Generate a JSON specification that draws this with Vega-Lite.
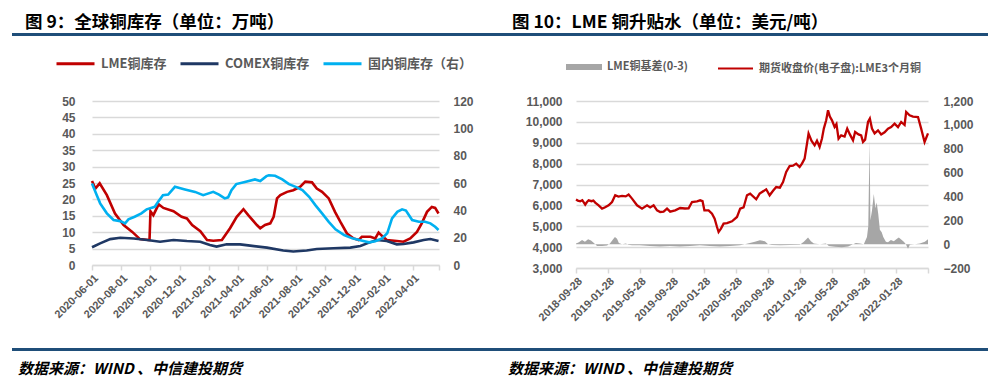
{
"$schema": "https://vega.github.io/schema/vega-lite/v6.json",
"background": "white",
"padding": {"left": 12, "top": 13, "right": 0, "bottom": 0},
"spacing": 7,
"resolve": {"scale": {"color": "independent"}, "legend": {"color": "independent"}},
"config": {"view": {"stroke": null}, "font": "Noto Sans CJK SC"},
"datasets": {
"stock": [
{"d":"2020-06-01","s":"LME铜库存","v":25.6},{"d":"2020-06-08","s":"LME铜库存","v":23.3},{"d":"2020-06-17","s":"LME铜库存","v":24.9},{"d":"2020-07-02","s":"LME铜库存","v":21.3},{"d":"2020-07-19","s":"LME铜库存","v":15.7},{"d":"2020-08-06","s":"LME铜库存","v":12.2},{"d":"2020-08-24","s":"LME铜库存","v":10.1},{"d":"2020-09-09","s":"LME铜库存","v":7.9},{"d":"2020-09-27","s":"LME铜库存","v":7.6},{"d":"2020-09-29","s":"LME铜库存","v":7.6},{"d":"2020-10-01","s":"LME铜库存","v":16.4},{"d":"2020-10-07","s":"LME铜库存","v":15.2},{"d":"2020-10-18","s":"LME铜库存","v":18.5},{"d":"2020-10-28","s":"LME铜库存","v":17.4},{"d":"2020-11-18","s":"LME铜库存","v":16.4},{"d":"2020-12-05","s":"LME铜库存","v":14.7},{"d":"2020-12-16","s":"LME铜库存","v":14.2},{"d":"2020-12-27","s":"LME铜库存","v":12.2},{"d":"2021-01-13","s":"LME铜库存","v":10.3},{"d":"2021-01-27","s":"LME铜库存","v":7.6},{"d":"2021-02-09","s":"LME铜库存","v":7.4},{"d":"2021-02-27","s":"LME铜库存","v":7.6},{"d":"2021-03-16","s":"LME铜库存","v":11.2},{"d":"2021-03-30","s":"LME铜库存","v":14.7},{"d":"2021-04-13","s":"LME铜库存","v":17.0},{"d":"2021-04-23","s":"LME铜库存","v":15.2},{"d":"2021-05-11","s":"LME铜库存","v":12.2},{"d":"2021-05-18","s":"LME铜库存","v":11.2},{"d":"2021-05-28","s":"LME铜库存","v":12.2},{"d":"2021-06-08","s":"LME铜库存","v":12.7},{"d":"2021-06-15","s":"LME铜库存","v":14.7},{"d":"2021-06-22","s":"LME铜库存","v":20.3},{"d":"2021-06-29","s":"LME铜库存","v":21.3},{"d":"2021-07-13","s":"LME铜库存","v":22.3},{"d":"2021-07-26","s":"LME铜库存","v":22.8},{"d":"2021-08-09","s":"LME铜库存","v":23.8},{"d":"2021-08-20","s":"LME铜库存","v":25.4},{"d":"2021-09-03","s":"LME铜库存","v":25.2},{"d":"2021-09-13","s":"LME铜库存","v":23.3},{"d":"2021-09-24","s":"LME铜库存","v":22.3},{"d":"2021-10-08","s":"LME铜库存","v":20.3},{"d":"2021-10-21","s":"LME铜库存","v":16.2},{"d":"2021-11-01","s":"LME铜库存","v":13.2},{"d":"2021-11-15","s":"LME铜库存","v":9.6},{"d":"2021-11-29","s":"LME铜库存","v":8.1},{"d":"2021-12-09","s":"LME铜库存","v":7.6},{"d":"2021-12-16","s":"LME铜库存","v":8.6},{"d":"2022-01-03","s":"LME铜库存","v":8.6},{"d":"2022-01-13","s":"LME铜库存","v":8.1},{"d":"2022-01-20","s":"LME铜库存","v":9.9},{"d":"2022-01-27","s":"LME铜库存","v":8.9},{"d":"2022-02-06","s":"LME铜库存","v":7.6},{"d":"2022-02-27","s":"LME铜库存","v":7.3},{"d":"2022-03-13","s":"LME铜库存","v":7.1},{"d":"2022-03-27","s":"LME铜库存","v":8.1},{"d":"2022-04-10","s":"LME铜库存","v":10.1},{"d":"2022-04-20","s":"LME铜库存","v":12.7},{"d":"2022-05-01","s":"LME铜库存","v":16.2},{"d":"2022-05-11","s":"LME铜库存","v":17.7},{"d":"2022-05-18","s":"LME铜库存","v":17.4},{"d":"2022-05-25","s":"LME铜库存","v":15.7},
{"d":"2020-06-01","s":"COMEX铜库存","v":5.4},{"d":"2020-06-18","s":"COMEX铜库存","v":6.6},{"d":"2020-07-09","s":"COMEX铜库存","v":7.9},{"d":"2020-07-30","s":"COMEX铜库存","v":8.3},{"d":"2020-08-27","s":"COMEX铜库存","v":8.1},{"d":"2020-09-24","s":"COMEX铜库存","v":7.6},{"d":"2020-10-21","s":"COMEX铜库存","v":7.1},{"d":"2020-11-18","s":"COMEX铜库存","v":7.6},{"d":"2020-12-16","s":"COMEX铜库存","v":7.3},{"d":"2021-01-13","s":"COMEX铜库存","v":7.1},{"d":"2021-02-02","s":"COMEX铜库存","v":6.1},{"d":"2021-02-16","s":"COMEX铜库存","v":5.6},{"d":"2021-03-09","s":"COMEX铜库存","v":6.3},{"d":"2021-04-06","s":"COMEX铜库存","v":6.3},{"d":"2021-04-27","s":"COMEX铜库存","v":5.9},{"d":"2021-06-01","s":"COMEX铜库存","v":5.3},{"d":"2021-07-05","s":"COMEX铜库存","v":4.4},{"d":"2021-07-26","s":"COMEX铜库存","v":4.1},{"d":"2021-08-23","s":"COMEX铜库存","v":4.4},{"d":"2021-09-13","s":"COMEX铜库存","v":4.9},{"d":"2021-10-18","s":"COMEX铜库存","v":5.1},{"d":"2021-11-22","s":"COMEX铜库存","v":5.3},{"d":"2021-12-13","s":"COMEX铜库存","v":5.8},{"d":"2021-12-27","s":"COMEX铜库存","v":6.6},{"d":"2022-01-16","s":"COMEX铜库存","v":7.6},{"d":"2022-02-06","s":"COMEX铜库存","v":7.3},{"d":"2022-02-27","s":"COMEX铜库存","v":6.3},{"d":"2022-03-13","s":"COMEX铜库存","v":6.4},{"d":"2022-04-03","s":"COMEX铜库存","v":6.9},{"d":"2022-04-24","s":"COMEX铜库存","v":7.6},{"d":"2022-05-08","s":"COMEX铜库存","v":7.9},{"d":"2022-05-25","s":"COMEX铜库存","v":7.3},
{"d":"2020-06-01","s":"国内铜库存（右）","v":59.7},{"d":"2020-06-11","s":"国内铜库存（右）","v":51.1},{"d":"2020-06-18","s":"国内铜库存（右）","v":45.1},{"d":"2020-07-02","s":"国内铜库存（右）","v":37.8},{"d":"2020-07-16","s":"国内铜库存（右）","v":32.9},{"d":"2020-07-30","s":"国内铜库存（右）","v":32.1},{"d":"2020-08-09","s":"国内铜库存（右）","v":30.5},{"d":"2020-08-16","s":"国内铜库存（右）","v":33.4},{"d":"2020-08-29","s":"国内铜库存（右）","v":35.3},{"d":"2020-09-12","s":"国内铜库存（右）","v":37.8},{"d":"2020-09-23","s":"国内铜库存（右）","v":40.7},{"d":"2020-10-10","s":"国内铜库存（右）","v":42.6},{"d":"2020-10-17","s":"国内铜库存（右）","v":46.2},{"d":"2020-10-27","s":"国内铜库存（右）","v":51.1},{"d":"2020-11-07","s":"国内铜库存（右）","v":51.5},{"d":"2020-11-21","s":"国内铜库存（右）","v":57.2},{"d":"2020-12-12","s":"国内铜库存（右）","v":55.3},{"d":"2021-01-02","s":"国内铜库存（右）","v":53.5},{"d":"2021-01-19","s":"国内铜库存（右）","v":51.1},{"d":"2021-02-09","s":"国内铜库存（右）","v":53.5},{"d":"2021-02-21","s":"国内铜库存（右）","v":51.5},{"d":"2021-03-05","s":"国内铜库存（右）","v":48.7},{"d":"2021-03-12","s":"国内铜库存（右）","v":49.5},{"d":"2021-03-19","s":"国内铜库存（右）","v":54.8},{"d":"2021-03-29","s":"国内铜库存（右）","v":59.2},{"d":"2021-04-16","s":"国内铜库存（右）","v":60.8},{"d":"2021-05-07","s":"国内铜库存（右）","v":62.6},{"d":"2021-05-18","s":"国内铜库存（右）","v":61.5},{"d":"2021-05-31","s":"国内铜库存（右）","v":65.0},{"d":"2021-06-05","s":"国内铜库存（右）","v":65.7},{"d":"2021-06-18","s":"国内铜库存（右）","v":65.3},{"d":"2021-07-03","s":"国内铜库存（右）","v":62.6},{"d":"2021-07-17","s":"国内铜库存（右）","v":59.2},{"d":"2021-07-31","s":"国内铜库存（右）","v":57.2},{"d":"2021-08-14","s":"国内铜库存（右）","v":54.8},{"d":"2021-08-28","s":"国内铜库存（右）","v":49.9},{"d":"2021-09-10","s":"国内铜库存（右）","v":43.8},{"d":"2021-09-24","s":"国内铜库存（右）","v":37.8},{"d":"2021-10-08","s":"国内铜库存（右）","v":31.6},{"d":"2021-10-22","s":"国内铜库存（右）","v":26.1},{"d":"2021-11-09","s":"国内铜库存（右）","v":21.9},{"d":"2021-11-26","s":"国内铜库存（右）","v":19.5},{"d":"2021-12-17","s":"国内铜库存（右）","v":17.8},{"d":"2021-12-31","s":"国内铜库存（右）","v":16.6},{"d":"2022-01-13","s":"国内铜库存（右）","v":17.4},{"d":"2022-01-27","s":"国内铜库存（右）","v":19.5},{"d":"2022-02-07","s":"国内铜库存（右）","v":23.2},{"d":"2022-02-17","s":"国内铜库存（右）","v":34.1},{"d":"2022-02-28","s":"国内铜库存（右）","v":38.9},{"d":"2022-03-10","s":"国内铜库存（右）","v":40.7},{"d":"2022-03-18","s":"国内铜库存（右）","v":39.8},{"d":"2022-03-31","s":"国内铜库存（右）","v":32.9},{"d":"2022-04-14","s":"国内铜库存（右）","v":31.6},{"d":"2022-04-27","s":"国内铜库存（右）","v":31.6},{"d":"2022-05-08","s":"国内铜库存（右）","v":30.5},{"d":"2022-05-18","s":"国内铜库存（右）","v":28.0},{"d":"2022-05-25","s":"国内铜库存（右）","v":25.6}
],
"lme": [
{"d":"2018-09-28","s":"期货收盘价(电子盘):LME3个月铜","v":6280},{"d":"2018-10-05","s":"期货收盘价(电子盘):LME3个月铜","v":6230},{"d":"2018-10-14","s":"期货收盘价(电子盘):LME3个月铜","v":6195},{"d":"2018-10-22","s":"期货收盘价(电子盘):LME3个月铜","v":6250},{"d":"2018-11-02","s":"期货收盘价(电子盘):LME3个月铜","v":6037},{"d":"2018-11-08","s":"期货收盘价(电子盘):LME3个月铜","v":6150},{"d":"2018-11-15","s":"期货收盘价(电子盘):LME3个月铜","v":6243},{"d":"2018-11-26","s":"期货收盘价(电子盘):LME3个月铜","v":6200},{"d":"2018-12-03","s":"期货收盘价(电子盘):LME3个月铜","v":6230},{"d":"2018-12-10","s":"期货收盘价(电子盘):LME3个月铜","v":6133},{"d":"2018-12-23","s":"期货收盘价(电子盘):LME3个月铜","v":6003},{"d":"2019-01-05","s":"期货收盘价(电子盘):LME3个月铜","v":5845},{"d":"2019-01-15","s":"期货收盘价(电子盘):LME3个月铜","v":5900},{"d":"2019-01-30","s":"期货收盘价(电子盘):LME3个月铜","v":6003},{"d":"2019-02-12","s":"期货收盘价(电子盘):LME3个月铜","v":6162},{"d":"2019-02-24","s":"期货收盘价(电子盘):LME3个月铜","v":6483},{"d":"2019-03-08","s":"期货收盘价(电子盘):LME3个月铜","v":6420},{"d":"2019-03-22","s":"期货收盘价(电子盘):LME3个月铜","v":6450},{"d":"2019-04-05","s":"期货收盘价(电子盘):LME3个月铜","v":6430},{"d":"2019-04-16","s":"期货收盘价(电子盘):LME3个月铜","v":6516},{"d":"2019-04-29","s":"期货收盘价(电子盘):LME3个月铜","v":6324},{"d":"2019-05-18","s":"期货收盘价(电子盘):LME3个月铜","v":6003},{"d":"2019-06-06","s":"期货收盘价(电子盘):LME3个月铜","v":5845},{"d":"2019-06-25","s":"期货收盘价(电子盘):LME3个月铜","v":6003},{"d":"2019-07-07","s":"期货收盘价(电子盘):LME3个月铜","v":5900},{"d":"2019-07-20","s":"期货收盘价(电子盘):LME3个月铜","v":6000},{"d":"2019-08-02","s":"期货收盘价(电子盘):LME3个月铜","v":5762},{"d":"2019-08-14","s":"期货收盘价(电子盘):LME3个月铜","v":5682},{"d":"2019-08-27","s":"期货收盘价(电子盘):LME3个月铜","v":5700},{"d":"2019-09-09","s":"期货收盘价(电子盘):LME3个月铜","v":5845},{"d":"2019-09-21","s":"期货收盘价(电子盘):LME3个月铜","v":5700},{"d":"2019-10-10","s":"期货收盘价(电子盘):LME3个月铜","v":5762},{"d":"2019-10-29","s":"期货收盘价(电子盘):LME3个月铜","v":5874},{"d":"2019-11-16","s":"期货收盘价(电子盘):LME3个月铜","v":5850},{"d":"2019-11-30","s":"期货收盘价(电子盘):LME3个月铜","v":5860},{"d":"2019-12-13","s":"期货收盘价(电子盘):LME3个月铜","v":6162},{"d":"2020-01-01","s":"期货收盘价(电子盘):LME3个月铜","v":6195},{"d":"2020-01-13","s":"期货收盘价(电子盘):LME3个月铜","v":6243},{"d":"2020-01-22","s":"期货收盘价(电子盘):LME3个月铜","v":6200},{"d":"2020-01-29","s":"期货收盘价(电子盘):LME3个月铜","v":5762},{"d":"2020-02-14","s":"期货收盘价(电子盘):LME3个月铜","v":5762},{"d":"2020-02-27","s":"期货收盘价(电子盘):LME3个月铜","v":5605},{"d":"2020-03-08","s":"期货收盘价(电子盘):LME3个月铜","v":5366},{"d":"2020-03-17","s":"期货收盘价(电子盘):LME3个月铜","v":4964},{"d":"2020-03-23","s":"期货收盘价(电子盘):LME3个月铜","v":4724},{"d":"2020-04-01","s":"期货收盘价(电子盘):LME3个月铜","v":4885},{"d":"2020-04-11","s":"期货收盘价(电子盘):LME3个月铜","v":5124},{"d":"2020-04-24","s":"期货收盘价(电子盘):LME3个月铜","v":5150},{"d":"2020-05-13","s":"期货收盘价(电子盘):LME3个月铜","v":5236},{"d":"2020-06-01","s":"期货收盘价(电子盘):LME3个月铜","v":5444},{"d":"2020-06-13","s":"期货收盘价(电子盘):LME3个月铜","v":5845},{"d":"2020-06-26","s":"期货收盘价(电子盘):LME3个月铜","v":5900},{"d":"2020-07-09","s":"期货收盘价(电子盘):LME3个月铜","v":6483},{"d":"2020-07-21","s":"期货收盘价(电子盘):LME3个月铜","v":6563},{"d":"2020-08-13","s":"期货收盘价(电子盘):LME3个月铜","v":6291},{"d":"2020-08-26","s":"期货收盘价(电子盘):LME3个月铜","v":6563},{"d":"2020-09-20","s":"期货收盘价(电子盘):LME3个月铜","v":6770},{"d":"2020-10-03","s":"期货收盘价(电子盘):LME3个月铜","v":6483},{"d":"2020-10-16","s":"期货收盘价(电子盘):LME3个月铜","v":6700},{"d":"2020-10-28","s":"期货收盘价(电子盘):LME3个月铜","v":6880},{"d":"2020-11-11","s":"期货收盘价(电子盘):LME3个月铜","v":6850},{"d":"2020-11-23","s":"期货收盘价(电子盘):LME3个月铜","v":7120},{"d":"2020-12-05","s":"期货收盘价(电子盘):LME3个月铜","v":7599},{"d":"2020-12-18","s":"期货收盘价(电子盘):LME3个月铜","v":7886},{"d":"2020-12-31","s":"期货收盘价(电子盘):LME3个月铜","v":7900},{"d":"2021-01-12","s":"期货收盘价(电子盘):LME3个月铜","v":8001},{"d":"2021-01-25","s":"期货收盘价(电子盘):LME3个月铜","v":7838},{"d":"2021-02-03","s":"期货收盘价(电子盘):LME3个月铜","v":8000},{"d":"2021-02-13","s":"期货收盘价(电子盘):LME3个月铜","v":8240},{"d":"2021-02-23","s":"期货收盘价(电子盘):LME3个月铜","v":9036},{"d":"2021-02-28","s":"期货收盘价(电子盘):LME3个月铜","v":9438},{"d":"2021-03-11","s":"期货收盘价(电子盘):LME3个月铜","v":9100},{"d":"2021-03-23","s":"期货收盘价(电子盘):LME3个月铜","v":8878},{"d":"2021-04-01","s":"期货收盘价(电子盘):LME3个月铜","v":9100},{"d":"2021-04-11","s":"期货收盘价(电子盘):LME3个月铜","v":8797},{"d":"2021-04-20","s":"期货收盘价(电子盘):LME3个月铜","v":9200},{"d":"2021-04-27","s":"期货收盘价(电子盘):LME3个月铜","v":9678},{"d":"2021-05-06","s":"期货收盘价(电子盘):LME3个月铜","v":10075},{"d":"2021-05-13","s":"期货收盘价(电子盘):LME3个月铜","v":10554},{"d":"2021-05-20","s":"期货收盘价(电子盘):LME3个月铜","v":10250},{"d":"2021-05-28","s":"期货收盘价(电子盘):LME3个月铜","v":10075},{"d":"2021-06-07","s":"期货收盘价(电子盘):LME3个月铜","v":9755},{"d":"2021-06-14","s":"期货收盘价(电子盘):LME3个月铜","v":9900},{"d":"2021-06-22","s":"期货收盘价(电子盘):LME3个月铜","v":9199},{"d":"2021-07-02","s":"期货收盘价(电子盘):LME3个月铜","v":9357},{"d":"2021-07-15","s":"期货收盘价(电子盘):LME3个月铜","v":9300},{"d":"2021-07-25","s":"期货收盘价(电子盘):LME3个月铜","v":9678},{"d":"2021-08-04","s":"期货收盘价(电子盘):LME3个月铜","v":9400},{"d":"2021-08-16","s":"期货收盘价(电子盘):LME3个月铜","v":9118},{"d":"2021-08-24","s":"期货收盘价(电子盘):LME3个月铜","v":9515},{"d":"2021-09-06","s":"期货收盘价(电子盘):LME3个月铜","v":9400},{"d":"2021-09-16","s":"期货收盘价(电子盘):LME3个月铜","v":9350},{"d":"2021-09-23","s":"期货收盘价(电子盘):LME3个月铜","v":9036},{"d":"2021-10-01","s":"期货收盘价(电子盘):LME3个月铜","v":9150},{"d":"2021-10-12","s":"期货收盘价(电子盘):LME3个月铜","v":9994},{"d":"2021-10-19","s":"期货收盘价(电子盘):LME3个月铜","v":10157},{"d":"2021-10-27","s":"期货收盘价(电子盘):LME3个月铜","v":9678},{"d":"2021-11-06","s":"期货收盘价(电子盘):LME3个月铜","v":9450},{"d":"2021-11-19","s":"期货收盘价(电子盘):LME3个月铜","v":9596},{"d":"2021-12-01","s":"期货收盘价(电子盘):LME3个月铜","v":9400},{"d":"2021-12-14","s":"期货收盘价(电子盘):LME3个月铜","v":9500},{"d":"2021-12-27","s":"期货收盘价(电子盘):LME3个月铜","v":9678},{"d":"2022-01-08","s":"期货收盘价(电子盘):LME3个月铜","v":9750},{"d":"2022-01-21","s":"期货收盘价(电子盘):LME3个月铜","v":9917},{"d":"2022-02-03","s":"期货收盘价(电子盘):LME3个月铜","v":9750},{"d":"2022-02-15","s":"期货收盘价(电子盘):LME3个月铜","v":9994},{"d":"2022-02-28","s":"期货收盘价(电子盘):LME3个月铜","v":9850},{"d":"2022-03-06","s":"期货收盘价(电子盘):LME3个月铜","v":10473},{"d":"2022-03-19","s":"期货收盘价(电子盘):LME3个月铜","v":10315},{"d":"2022-04-01","s":"期货收盘价(电子盘):LME3个月铜","v":10250},{"d":"2022-04-20","s":"期货收盘价(电子盘):LME3个月铜","v":10234},{"d":"2022-05-02","s":"期货收盘价(电子盘):LME3个月铜","v":9678},{"d":"2022-05-15","s":"期货收盘价(电子盘):LME3个月铜","v":9036},{"d":"2022-05-25","s":"期货收盘价(电子盘):LME3个月铜","v":9357},{"d":"2022-05-28","s":"期货收盘价(电子盘):LME3个月铜","v":9450},
{"d":"2018-09-28","s":"LME铜基差(0-3)","v":5},{"d":"2018-10-09","s":"LME铜基差(0-3)","v":15},{"d":"2018-10-21","s":"LME铜基差(0-3)","v":35},{"d":"2018-11-01","s":"LME铜基差(0-3)","v":20},{"d":"2018-11-13","s":"LME铜基差(0-3)","v":40},{"d":"2018-11-24","s":"LME铜基差(0-3)","v":30},{"d":"2018-12-05","s":"LME铜基差(0-3)","v":10},{"d":"2018-12-17","s":"LME铜基差(0-3)","v":-15},{"d":"2019-01-05","s":"LME铜基差(0-3)","v":-15},{"d":"2019-01-24","s":"LME铜基差(0-3)","v":-12},{"d":"2019-02-04","s":"LME铜基差(0-3)","v":5},{"d":"2019-02-16","s":"LME铜基差(0-3)","v":40},{"d":"2019-02-23","s":"LME铜基差(0-3)","v":60},{"d":"2019-03-03","s":"LME铜基差(0-3)","v":45},{"d":"2019-03-10","s":"LME铜基差(0-3)","v":10},{"d":"2019-03-22","s":"LME铜基差(0-3)","v":0},{"d":"2019-04-06","s":"LME铜基差(0-3)","v":5},{"d":"2019-04-14","s":"LME铜基差(0-3)","v":-5},{"d":"2019-04-29","s":"LME铜基差(0-3)","v":-10},{"d":"2019-05-29","s":"LME铜基差(0-3)","v":-10},{"d":"2019-07-06","s":"LME铜基差(0-3)","v":-15},{"d":"2019-08-13","s":"LME铜基差(0-3)","v":-20},{"d":"2019-09-20","s":"LME铜基差(0-3)","v":-15},{"d":"2019-10-28","s":"LME铜基差(0-3)","v":-20},{"d":"2019-12-05","s":"LME铜基差(0-3)","v":-15},{"d":"2020-01-12","s":"LME铜基差(0-3)","v":-10},{"d":"2020-02-19","s":"LME铜基差(0-3)","v":-15},{"d":"2020-03-28","s":"LME铜基差(0-3)","v":-20},{"d":"2020-05-05","s":"LME铜基差(0-3)","v":-15},{"d":"2020-06-12","s":"LME铜基差(0-3)","v":-10},{"d":"2020-07-01","s":"LME铜基差(0-3)","v":0},{"d":"2020-07-20","s":"LME铜基差(0-3)","v":10},{"d":"2020-08-08","s":"LME铜基差(0-3)","v":20},{"d":"2020-08-27","s":"LME铜基差(0-3)","v":32},{"d":"2020-09-15","s":"LME铜基差(0-3)","v":25},{"d":"2020-09-27","s":"LME铜基差(0-3)","v":0},{"d":"2020-10-12","s":"LME铜基差(0-3)","v":-8},{"d":"2020-11-11","s":"LME铜基差(0-3)","v":-10},{"d":"2020-12-19","s":"LME铜基差(0-3)","v":-8},{"d":"2021-01-26","s":"LME铜基差(0-3)","v":-5},{"d":"2021-02-10","s":"LME铜基差(0-3)","v":20},{"d":"2021-02-26","s":"LME铜基差(0-3)","v":55},{"d":"2021-03-09","s":"LME铜基差(0-3)","v":25},{"d":"2021-03-20","s":"LME铜基差(0-3)","v":5},{"d":"2021-04-12","s":"LME铜基差(0-3)","v":0},{"d":"2021-05-05","s":"LME铜基差(0-3)","v":5},{"d":"2021-05-16","s":"LME铜基差(0-3)","v":-15},{"d":"2021-06-08","s":"LME铜基差(0-3)","v":-22},{"d":"2021-07-05","s":"LME铜基差(0-3)","v":-25},{"d":"2021-07-28","s":"LME铜基差(0-3)","v":-20},{"d":"2021-08-12","s":"LME铜基差(0-3)","v":-5},{"d":"2021-08-27","s":"LME铜基差(0-3)","v":10},{"d":"2021-09-11","s":"LME铜基差(0-3)","v":5},{"d":"2021-09-26","s":"LME铜基差(0-3)","v":0},{"d":"2021-10-08","s":"LME铜基差(0-3)","v":60},{"d":"2021-10-13","s":"LME铜基差(0-3)","v":150},{"d":"2021-10-18","s":"LME铜基差(0-3)","v":870},{"d":"2021-10-21","s":"LME铜基差(0-3)","v":200},{"d":"2021-10-27","s":"LME铜基差(0-3)","v":280},{"d":"2021-11-03","s":"LME铜基差(0-3)","v":420},{"d":"2021-11-09","s":"LME铜基差(0-3)","v":300},{"d":"2021-11-14","s":"LME铜基差(0-3)","v":350},{"d":"2021-11-20","s":"LME铜基差(0-3)","v":250},{"d":"2021-11-26","s":"LME铜基差(0-3)","v":120},{"d":"2021-12-03","s":"LME铜基差(0-3)","v":100},{"d":"2021-12-09","s":"LME铜基差(0-3)","v":60},{"d":"2021-12-19","s":"LME铜基差(0-3)","v":20},{"d":"2021-12-27","s":"LME铜基差(0-3)","v":15},{"d":"2022-01-07","s":"LME铜基差(0-3)","v":35},{"d":"2022-01-18","s":"LME铜基差(0-3)","v":25},{"d":"2022-01-30","s":"LME铜基差(0-3)","v":45},{"d":"2022-02-06","s":"LME铜基差(0-3)","v":55},{"d":"2022-02-14","s":"LME铜基差(0-3)","v":40},{"d":"2022-02-25","s":"LME铜基差(0-3)","v":20},{"d":"2022-03-05","s":"LME铜基差(0-3)","v":0},{"d":"2022-03-13","s":"LME铜基差(0-3)","v":-38},{"d":"2022-03-20","s":"LME铜基差(0-3)","v":-5},{"d":"2022-04-08","s":"LME铜基差(0-3)","v":0},{"d":"2022-04-27","s":"LME铜基差(0-3)","v":5},{"d":"2022-05-16","s":"LME铜基差(0-3)","v":20},{"d":"2022-05-28","s":"LME铜基差(0-3)","v":40}
]
},
"vconcat": [
{
"spacing": 7,
"resolve": {"scale": {"color": "independent"}, "legend": {"color": "independent"}},
"vconcat": [
{
"spacing": 0,
"hconcat": [
{
"data": {"values": [{"k": 1}]},
"mark": {"type": "rect", "color": "#1F4E79"},
"encoding": {},
"width": 488, "height": 3,
"view": {"fill": "#1F4E79", "stroke": null},
"title": {"text": "图 9：全球铜库存（单位：万吨）", "anchor": "start", "dx": 13, "fontSize": 17.5, "fontWeight": "bold", "color": "#000000", "offset": -12, "baseline": "alphabetic", "font": "Noto Sans CJK SC"}
},
{
"data": {"values": [{"k": 1}]},
"mark": {"type": "rect", "color": "#1F4E79"},
"encoding": {},
"width": 488, "height": 3,
"view": {"fill": "#1F4E79", "stroke": null},
"title": {"text": "图 10：LME 铜升贴水（单位：美元/吨）", "anchor": "start", "dx": 12, "fontSize": 17.5, "fontWeight": "bold", "color": "#000000", "offset": -12, "baseline": "alphabetic", "font": "Noto Sans CJK SC"}
}
]
},
{
"spacing": 0,
"resolve": {"scale": {"color": "independent"}, "legend": {"color": "independent"}},
"hconcat": [
{
"data": {"values": [{"k": 1}]},
"mark": {"type": "rect", "opacity": 0},
"encoding": {},
"width": 1, "height": 1
},
{
"width": 347, "height": 164,
"data": {"name": "stock"},
"layer": [
{
"transform": [{"filter": "datum.s != '国内铜库存（右）'"}],
"mark": {"type": "line", "strokeWidth": 2.6},
"encoding": {
"x": {"field": "d", "type": "temporal",
 "scale": {"type": "utc", "domain": [{"year": 2020, "month": 6, "date": 1, "utc": true}, {"year": 2022, "month": 5, "date": 26, "utc": true}]},
 "axis": {"title": null, "tickCount": 40, "values": [{"year":2020,"month":6,"date":1,"utc":true},{"year":2020,"month":8,"date":1,"utc":true},{"year":2020,"month":10,"date":1,"utc":true},{"year":2020,"month":12,"date":1,"utc":true},{"year":2021,"month":2,"date":1,"utc":true},{"year":2021,"month":4,"date":1,"utc":true},{"year":2021,"month":6,"date":1,"utc":true},{"year":2021,"month":8,"date":1,"utc":true},{"year":2021,"month":10,"date":1,"utc":true},{"year":2021,"month":12,"date":1,"utc":true},{"year":2022,"month":2,"date":1,"utc":true},{"year":2022,"month":4,"date":1,"utc":true},{"year":2022,"month":5,"date":26,"utc":true}],
  "labelExpr": "datum.value > 1650000000000 ? '' : utcFormat(datum.value, '%Y-%m-%d')",
  "labelAngle": -45, "labelFontSize": 11, "labelFontWeight": "bold", "labelColor": "#595959", "labelFont": "Liberation Sans",
  "tickColor": "#D9D9D9", "tickSize": 5, "tickWidth": 1.5, "domainColor": "#D9D9D9", "domainWidth": 1.5, "grid": false,
  "labelPadding": 2, "minExtent": 76, "labelOverlap": false, "labelBound": false, "labelFlush": false}},
"y": {"field": "v", "type": "quantitative", "scale": {"domain": [0, 50]},
 "axis": {"orient": "left", "title": null, "tickCount": 40, "values": [0,5,10,15,20,25,30,35,40,45,50], "grid": true, "gridColor": "#D9D9D9", "gridWidth": 1.5, "domain": false, "ticks": false, "labelPadding": 17, "labelFontSize": 12, "labelFontWeight": "bold", "labelColor": "#595959", "labelFont": "Liberation Sans", "minExtent": 79}},
"color": {"field": "s", "type": "nominal",
 "scale": {"domain": ["LME铜库存", "COMEX铜库存", "国内铜库存（右）"], "range": ["#C00000", "#1F3864", "#00B0F0"]},
 "legend": {"orient": "none", "legendX": -37, "legendY": -58, "direction": "horizontal", "title": null, "symbolType": "stroke", "symbolSize": 1444, "symbolStrokeWidth": 3, "labelFontSize": 13, "labelFontWeight": "bold", "labelColor": "#595959", "labelFont": "Noto Sans CJK SC", "labelOffset": 5, "columnPadding": 7, "padding": 0, "labelLimit": 300}}
}
},
{
"transform": [{"filter": "datum.s == '国内铜库存（右）'"}],
"mark": {"type": "line", "strokeWidth": 2.6},
"encoding": {
"x": {"field": "d", "type": "temporal"},
"y": {"field": "v", "type": "quantitative", "scale": {"domain": [0, 120]},
 "axis": {"orient": "right", "title": null, "tickCount": 40, "values": [0,20,40,60,80,100,120], "grid": false, "domain": false, "ticks": false, "labelPadding": 14, "labelFontSize": 12, "labelFontWeight": "bold", "labelColor": "#595959", "labelFont": "Liberation Sans", "minExtent": 61}},
"color": {"field": "s", "type": "nominal"}
}
}
],
"resolve": {"scale": {"y": "independent"}}
},
{
"width": 352, "height": 167,
"data": {"name": "lme"},
"layer": [
{
"transform": [{"filter": "datum.s == 'LME铜基差(0-3)'"}],
"mark": {"type": "area", "opacity": 1},
"encoding": {
"x": {"field": "d", "type": "temporal",
 "scale": {"type": "utc", "domain": [{"year": 2018, "month": 9, "date": 28, "utc": true}, {"year": 2022, "month": 5, "date": 28, "utc": true}]},
 "axis": {"title": null, "tickCount": 40, "values": [{"year":2018,"month":9,"date":28,"utc":true},{"year":2019,"month":1,"date":28,"utc":true},{"year":2019,"month":5,"date":28,"utc":true},{"year":2019,"month":9,"date":28,"utc":true},{"year":2020,"month":1,"date":28,"utc":true},{"year":2020,"month":5,"date":28,"utc":true},{"year":2020,"month":9,"date":28,"utc":true},{"year":2021,"month":1,"date":28,"utc":true},{"year":2021,"month":5,"date":28,"utc":true},{"year":2021,"month":9,"date":28,"utc":true},{"year":2022,"month":1,"date":28,"utc":true},{"year":2022,"month":5,"date":28,"utc":true}],
  "labelExpr": "datum.value > 1650000000000 ? '' : utcFormat(datum.value, '%Y-%m-%d')",
  "labelAngle": -45, "labelFontSize": 11, "labelFontWeight": "bold", "labelColor": "#595959", "labelFont": "Liberation Sans",
  "tickColor": "#D9D9D9", "tickSize": 5, "tickWidth": 1.5, "domainColor": "#D9D9D9", "domainWidth": 1.5, "grid": false,
  "labelPadding": 2, "minExtent": 73, "labelOverlap": false, "labelBound": false, "labelFlush": false}},
"y": {"field": "v", "type": "quantitative", "scale": {"domain": [-200, 1200]},
 "axis": {"orient": "right", "title": null, "tickCount": 40, "values": [-200,0,200,400,600,800,1000,1200], "format": ",.0f", "grid": false, "domain": false, "ticks": false, "labelPadding": 15, "labelFontSize": 12, "labelFontWeight": "bold", "labelColor": "#595959", "labelFont": "Liberation Sans"}},
"color": {"field": "s", "type": "nominal",
 "scale": {"domain": ["LME铜基差(0-3)"], "range": ["#A6A6A6"]},
 "legend": {"orient": "none", "legendX": -10, "legendY": -52, "title": null, "symbolType": "M-1,-0.17H1V0.17H-1Z", "symbolSize": 1296, "symbolStrokeWidth": 0, "labelFontSize": 11, "labelFontWeight": "bold", "labelColor": "#595959", "labelFont": "Noto Sans CJK SC", "labelOffset": 5, "padding": 0, "labelLimit": 300}}
}
},
{
"transform": [{"filter": "datum.s != 'LME铜基差(0-3)'"}],
"mark": {"type": "line", "strokeWidth": 2.3},
"encoding": {
"x": {"field": "d", "type": "temporal"},
"y": {"field": "v", "type": "quantitative", "scale": {"domain": [3000, 11000]},
 "axis": {"orient": "left", "title": null, "tickCount": 40, "values": [3000,4000,5000,6000,7000,8000,9000,10000,11000], "format": ",.0f", "grid": true, "gridColor": "#D9D9D9", "gridWidth": 1.5, "domain": false, "ticks": false, "labelPadding": 14, "labelFontSize": 12, "labelFontWeight": "bold", "labelColor": "#595959", "labelFont": "Liberation Sans", "minExtent": 76}},
"color": {"field": "s", "type": "nominal",
 "scale": {"domain": ["期货收盘价(电子盘):LME3个月铜"], "range": ["#C00000"]},
 "legend": {"orient": "none", "legendX": 141, "legendY": -51, "title": null, "symbolType": "stroke", "symbolSize": 1225, "symbolStrokeWidth": 2, "labelFontSize": 11, "labelFontWeight": "bold", "labelColor": "#595959", "labelFont": "Noto Sans CJK SC", "labelOffset": 5, "padding": 0, "labelLimit": 300}}
}
}
],
"resolve": {"scale": {"y": "independent", "color": "independent"}, "legend": {"color": "independent"}}
}
]
}
]
},
{
"spacing": 0,
"hconcat": [
{
"data": {"values": [{"k": 1}]},
"mark": {"type": "rect", "color": "#1F4E79"},
"encoding": {},
"width": 488, "height": 3,
"view": {"fill": "#1F4E79", "stroke": null},
"title": {"text": "数据来源：WIND 、中信建投期货", "orient": "bottom", "anchor": "start", "dx": 6, "fontSize": 15, "fontWeight": "bold", "fontStyle": "italic", "color": "#000000", "offset": 11, "baseline": "top", "font": "Noto Sans CJK SC"}
},
{
"data": {"values": [{"k": 1}]},
"mark": {"type": "rect", "color": "#1F4E79"},
"encoding": {},
"width": 488, "height": 3,
"view": {"fill": "#1F4E79", "stroke": null},
"title": {"text": "数据来源：WIND 、中信建投期货", "orient": "bottom", "anchor": "start", "dx": 8, "fontSize": 15, "fontWeight": "bold", "fontStyle": "italic", "color": "#000000", "offset": 11, "baseline": "top", "font": "Noto Sans CJK SC"}
}
]
}
]
}
